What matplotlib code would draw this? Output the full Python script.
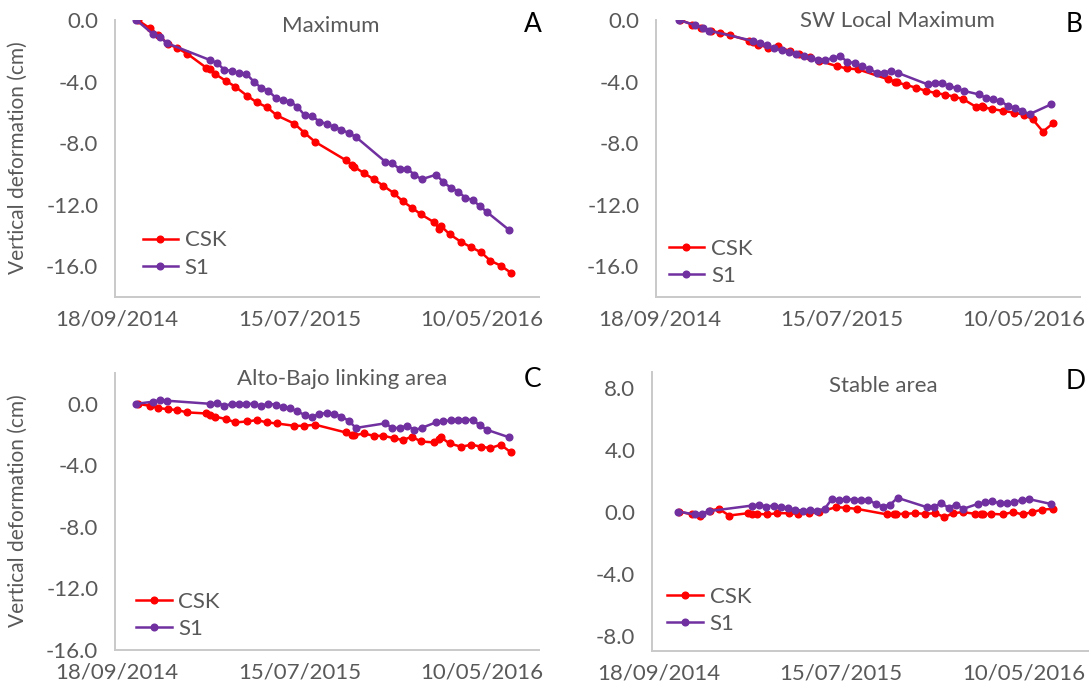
import pandas as pd
import matplotlib
matplotlib.use('Agg')
import matplotlib.pyplot as plt

START = pd.Timestamp('2014-09-18')
TICK_DATES = ['2014-09-18', '2015-07-15', '2016-05-10']
TICK_LABELS = ['18/09/2014', '15/07/2015', '10/05/2016']

# acquisition days counted from 18/09/2014
CSK_DAY = [34, 54, 68, 84, 99, 116, 147, 153, 162, 179, 195, 214, 230, 247, 263, 292, 308, 326,
           376, 387, 390, 406, 422, 438, 455, 470, 485, 500, 521, 530, 533, 547, 566, 583, 599, 614,
           631, 648]
S1_DAY = [32, 59, 71, 82, 153, 165, 177, 189, 201, 213, 225, 237, 249, 261, 273, 285, 297, 309,
          321, 333, 345, 357, 369, 381, 393, 441, 453, 465, 477, 489, 501, 525, 537, 549, 561, 573,
          585, 597, 609, 645]

# vertical deformation (cm)
A_CSK = [0.0, -0.53, -0.95, -1.56, -1.81, -2.2, -3.1, -3.2, -3.52, -3.95, -4.34, -4.92, -5.35,
         -5.67, -6.2, -6.74, -7.32, -7.92, -9.1, -9.42, -9.53, -9.95, -10.34, -10.77, -11.24,
         -11.78, -12.2, -12.63, -13.13, -13.56, -13.39, -13.92, -14.42, -14.78, -15.1, -15.64,
         -15.96, -16.43]
A_S1 = [0.0, -0.9, -1.1, -1.5, -2.6, -2.8, -3.25, -3.3, -3.45, -3.5, -4.0, -4.4, -4.6, -5.05,
        -5.2, -5.3, -5.65, -6.2, -6.25, -6.6, -6.75, -6.95, -7.13, -7.34, -7.6, -9.2, -9.3, -9.7,
        -9.65, -10.05, -10.35, -10.05, -10.55, -10.9, -11.15, -11.55, -11.7, -12.1, -12.5, -13.65]

B_CSK = [0.0, -0.3, -0.5, -0.7, -0.82, -0.98, -1.35, -1.45, -1.6, -1.8, -1.72, -2.02, -2.22,
         -2.4, -2.66, -3.0, -3.15, -3.2, -3.85, -4.0, -4.05, -4.22, -4.4, -4.6, -4.75, -4.85,
         -4.98, -5.15, -5.65, -5.62, -5.68, -5.78, -5.91, -6.02, -6.15, -6.45, -7.25, -6.7]
B_S1 = [0.0, -0.35, -0.5, -0.7, -1.35, -1.47, -1.65, -1.85, -1.97, -2.05, -2.2, -2.35, -2.45,
        -2.62, -2.6, -2.47, -2.35, -2.71, -2.8, -3.0, -3.2, -3.42, -3.42, -3.31, -3.45, -4.18,
        -4.07, -4.1, -4.29, -4.44, -4.61, -4.83, -5.05, -5.15, -5.26, -5.58, -5.69, -5.91, -6.12,
        -5.47]

C_CSK = [0.0, -0.13, -0.28, -0.35, -0.41, -0.56, -0.63, -0.71, -0.84, -0.99, -1.21, -1.15,
         -1.06, -1.21, -1.28, -1.43, -1.43, -1.36, -1.86, -2.01, -2.05, -1.93, -2.08, -2.08,
         -2.23, -2.36, -2.14, -2.45, -2.51, -2.3, -2.19, -2.58, -2.79, -2.66, -2.79, -2.88, -2.66,
         -3.16]
C_S1 = [0.0, 0.13, 0.24, 0.2, 0.0, 0.07, -0.13, 0.0, 0.0, 0.0, 0.0, -0.13, 0.0, -0.05, -0.2,
        -0.3, -0.5, -0.73, -0.85, -0.65, -0.6, -0.65, -0.83, -1.1, -1.57, -1.27, -1.57, -1.57,
        -1.42, -1.7, -1.57, -1.2, -1.13, -1.08, -1.04, -1.04, -1.04, -1.41, -1.7, -2.18]

D_CSK = [0.0, -0.19, -0.26, 0.06, 0.17, -0.26, -0.11, -0.13, -0.15, -0.19, -0.11, -0.11, -0.15,
         -0.11, -0.04, 0.28, 0.24, 0.17, -0.19, -0.15, -0.15, -0.15, -0.11, -0.15, -0.11, -0.36,
         -0.11, -0.04, -0.15, -0.19, -0.17, -0.15, -0.19, -0.04, -0.19, -0.04, 0.12, 0.17]
D_S1 = [0.0, -0.19, -0.15, 0.02, 0.38, 0.45, 0.32, 0.38, 0.28, 0.24, 0.11, 0.06, 0.11, 0.06,
        0.17, 0.81, 0.75, 0.81, 0.75, 0.71, 0.75, 0.49, 0.32, 0.45, 0.88, 0.28, 0.32, 0.53, 0.24,
        0.45, 0.17, 0.49, 0.6, 0.66, 0.53, 0.53, 0.6, 0.75, 0.8, 0.49]

RED = '#ff0000'
PURPLE = '#7030a0'
GREY = '#595959'
AXIS_GREY = '#c9c9c9'
W, H = 1089, 688


def main():
    plt.rcParams['font.family'] = ['Lato', 'DejaVu Sans']
    fig = plt.figure(figsize=(W / 100, H / 100), dpi=100)

    csk_dates = START + pd.to_timedelta(CSK_DAY, unit='D')
    s1_dates = START + pd.to_timedelta(S1_DAY, unit='D')

    # pixel boxes: left, top, right, bottom
    panels = [
        dict(box=(115, 20, 539, 297), csk=A_CSK, s1=A_S1, title='Maximum', tx=0.51, ty=0.978,
             letter='A', lx=0.985, ly=0.985, ylim=(-18, 0), yticks=[0, -4, -8, -12, -16],
             leg=(0.065, 0.07), xlim=('2014-09-15', '2016-08-12')),
        dict(box=(656, 20, 1080, 297), csk=B_CSK, s1=B_S1, title='SW Local Maximum', tx=0.57,
             ty=0.995, letter='B', lx=0.985, ly=0.985, ylim=(-18, 0),
             yticks=[0, -4, -8, -12, -16], leg=(0.03, 0.04), xlim=('2014-09-12', '2016-08-10')),
        dict(box=(115, 373, 539, 650), csk=C_CSK, s1=C_S1, title='Alto-Bajo linking area',
             tx=0.535, ty=0.978, letter='C', lx=0.985, ly=0.975, ylim=(-16, 2),
             yticks=[0, -4, -8, -12, -16], leg=(0.05, 0.04), xlim=('2014-09-15', '2016-08-12')),
        dict(box=(652, 372, 1089, 651), csk=D_CSK, s1=D_S1, title='Stable area', tx=0.53, ty=0.95,
             letter='D', lx=0.97, ly=0.965, ylim=(-9, 9), yticks=[8, 4, 0, -4, -8],
             leg=(0.035, 0.06), xlim=('2014-09-07', '2016-08-26')),
    ]

    for p in panels:
        plot_panel(fig, p, csk_dates, s1_dates)

    for yc in (158, 511):
        fig.text(18 / W, 1 - yc / H, 'Vertical deformation (cm)', rotation=90, ha='center',
                 va='center', fontsize=15, color=GREY)

    fig.savefig('out.png', dpi=100, facecolor='w')
    plt.close('all')


def plot_panel(fig, p, csk_dates, s1_dates):
    left, top, right, bottom = p['box']
    ax = fig.add_axes([left / W, 1 - bottom / H, (right - left) / W, (bottom - top) / H])

    ax.plot(csk_dates, p['csk'], color=RED, lw=1.8, marker='o', ms=4.8, label='CSK')
    ax.plot(s1_dates, p['s1'], color=PURPLE, lw=1.8, marker='o', ms=4.8, label='S1')

    ax.set_xlim(pd.Timestamp(p['xlim'][0]), pd.Timestamp(p['xlim'][1]))
    ax.set_xticks(pd.to_datetime(TICK_DATES))
    ax.set_xticklabels(TICK_LABELS)
    ax.set_ylim(*p['ylim'])
    ax.set_yticks(p['yticks'])
    ax.set_yticklabels(['%.1f' % v for v in p['yticks']])

    ax.tick_params(length=0, labelsize=16, colors=GREY)
    ax.tick_params(axis='x', pad=9)
    ax.tick_params(axis='y', pad=12)
    for side in ('top', 'right'):
        ax.spines[side].set_visible(False)
    for side in ('left', 'bottom'):
        ax.spines[side].set_color(AXIS_GREY)
        ax.spines[side].set_linewidth(1.4)
    ax.set_facecolor('none')

    ax.text(p['tx'], p['ty'], p['title'], transform=ax.transAxes, ha='center', va='center',
            fontsize=16, color=GREY)
    ax.text(p['lx'], p['ly'], p['letter'], transform=ax.transAxes, ha='center', va='center',
            fontsize=19, color='black')

    ax.legend(loc='lower left', bbox_to_anchor=p['leg'], frameon=False, fontsize=16,
              handlelength=1.6, handletextpad=0.3, labelspacing=0.32, borderpad=0,
              borderaxespad=0, labelcolor=GREY)


if __name__ == '__main__':
    main()
